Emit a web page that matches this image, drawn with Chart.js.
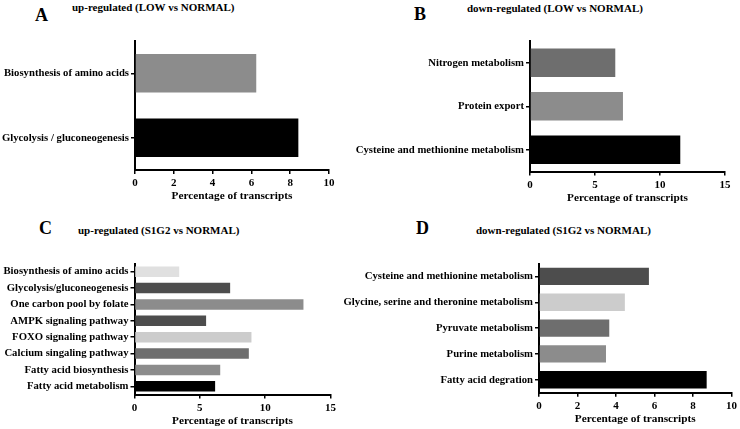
<!DOCTYPE html>
<html>
<head>
<meta charset="utf-8">
<script src="https://cdn.jsdelivr.net/npm/chart.js@4/dist/chart.umd.min.js"></script>
<style>
  body { margin: 0; background: #fff; }
  #page { position: relative; width: 740px; height: 429px; overflow: hidden; }
  canvas { position: absolute; }
  .txt { position: absolute; font-family: "Liberation Serif", "Times New Roman", serif; font-weight: bold; line-height: 1; white-space: nowrap; color: #000; }
  .letter { font-size: 18px; }
  .ttl { font-size: 11px; }
</style>
</head>
<body>
<div id="page">
  <div class="txt letter" style="left:35px; top:6px;">A</div>
  <div class="txt ttl" style="left:72px; top:2px;">up-regulated (LOW vs NORMAL)</div>
  <div class="txt letter" style="left:414px; top:5px;">B</div>
  <div class="txt ttl" style="left:467px; top:3px;">down-regulated (LOW vs NORMAL)</div>
  <div class="txt letter" style="left:39px; top:219px;">C</div>
  <div class="txt ttl" style="left:78px; top:225px;">up-regulated (S1G2 vs NORMAL)</div>
  <div class="txt letter" style="left:416px; top:219px;">D</div>
  <div class="txt ttl" style="left:476px; top:225px;">down-regulated (S1G2 vs NORMAL)</div>

  <canvas id="chartA" width="370" height="210" style="left:0px; top:0px;"></canvas>
  <canvas id="chartB" width="440" height="210" style="left:300px; top:0px;"></canvas>
  <canvas id="chartC" width="370" height="219" style="left:0px; top:210px;"></canvas>
  <canvas id="chartD" width="440" height="219" style="left:300px; top:210px;"></canvas>
</div>
<script>
// A: up-regulated (LOW vs NORMAL)
const labelsA = ["Biosynthesis of amino acids", "Glycolysis / gluconeogenesis"];
const valuesA = [6.25, 8.42];
const colorsA = ["#8c8c8c", "#000000"];

// B: down-regulated (LOW vs NORMAL)
const labelsB = ["Nitrogen metabolism", "Protein export", "Cysteine and methionine metabolism"];
const valuesB = [6.56, 7.15, 11.56];
const colorsB = ["#6e6e6e", "#8c8c8c", "#000000"];

// C: up-regulated (S1G2 vs NORMAL)
const labelsC = [
  "Biosynthesis of amino acids",
  "Glycolysis/gluconeogenesis",
  "One carbon pool by folate",
  "AMPK signaling pathway",
  "FOXO signaling pathway",
  "Calcium singaling pathway",
  "Fatty acid biosynthesis",
  "Fatty acid metabolism",
];
const valuesC = [3.42, 7.32, 12.93, 5.48, 8.95, 8.75, 6.56, 6.17];
const colorsC = ["#e0e0e0", "#4d4d4d", "#8c8c8c", "#4d4d4d", "#cccccc", "#6e6e6e", "#8c8c8c", "#000000"];

// D: down-regulated (S1G2 vs NORMAL)
const labelsD = [
  "Cysteine and methionine metabolism",
  "Glycine, serine and theronine metabolism",
  "Pyruvate metabolism",
  "Purine metabolism",
  "Fatty acid degration",
];
const valuesD = [5.71, 4.46, 3.65, 3.48, 8.71];
const colorsD = ["#4d4d4d", "#cccccc", "#6e6e6e", "#8c8c8c", "#000000"];

const xTitle = "Percentage of transcripts";

Chart.defaults.font.family = "'Liberation Serif', 'Times New Roman', serif";
Chart.defaults.font.weight = "bold";
Chart.defaults.color = "#000";

// box = chart area inside the canvas: left, right, top, bottom
function makePanel(id, labels, values, colors, xMax, xStep, box, barPct) {
  const cv = document.getElementById(id);
  const axisH = 34;
  return new Chart(cv.getContext("2d"), {
    type: "bar",
    data: {
      labels: labels,
      datasets: [{
        data: values,
        backgroundColor: colors,
        borderWidth: 0,
        barPercentage: barPct,
        categoryPercentage: 1,
      }],
    },
    options: {
      indexAxis: "y",
      responsive: false,
      animation: false,
      layout: {
        padding: {
          left: 0,
          top: box.top,
          right: cv.width - box.right,
          bottom: cv.height - box.bottom - axisH,
        },
      },
      plugins: { legend: { display: false }, tooltip: { enabled: false } },
      scales: {
        x: {
          min: 0,
          max: xMax,
          ticks: { stepSize: xStep, padding: 3, font: { size: 11 } },
          grid: { drawOnChartArea: false, drawTicks: true, tickLength: 4, color: "#000", lineWidth: 1.5 },
          border: { display: true, color: "#000", width: 2 },
          title: { display: true, text: xTitle, font: { size: 11.3 }, padding: { top: 0, bottom: 1 } },
          afterFit: function (scale) { scale.height = axisH; },
        },
        y: {
          ticks: { autoSkip: false, padding: 2, font: { size: 10.7 } },
          grid: { drawOnChartArea: false, drawTicks: true, tickLength: 4, offset: false, color: "#000", lineWidth: 1.5 },
          border: { display: true, color: "#000", width: 2 },
          afterFit: function (scale) { scale.width = box.left; },
        },
      },
    },
  });
}

makePanel("chartA", labelsA, valuesA, colorsA, 10, 2, { left: 135, right: 329, top: 41, bottom: 170 }, 0.6);
makePanel("chartB", labelsB, valuesB, colorsB, 15, 5, { left: 230, right: 425, top: 41, bottom: 171.5 }, 0.65);
makePanel("chartC", labelsC, valuesC, colorsC, 15, 5, { left: 134.5, right: 330.5, top: 53.5, bottom: 184.5 }, 0.64);
makePanel("chartD", labelsD, valuesD, colorsD, 10, 2, { left: 239, right: 433.5, top: 53.5, bottom: 182.7 }, 0.67);
</script>
</body>
</html>
